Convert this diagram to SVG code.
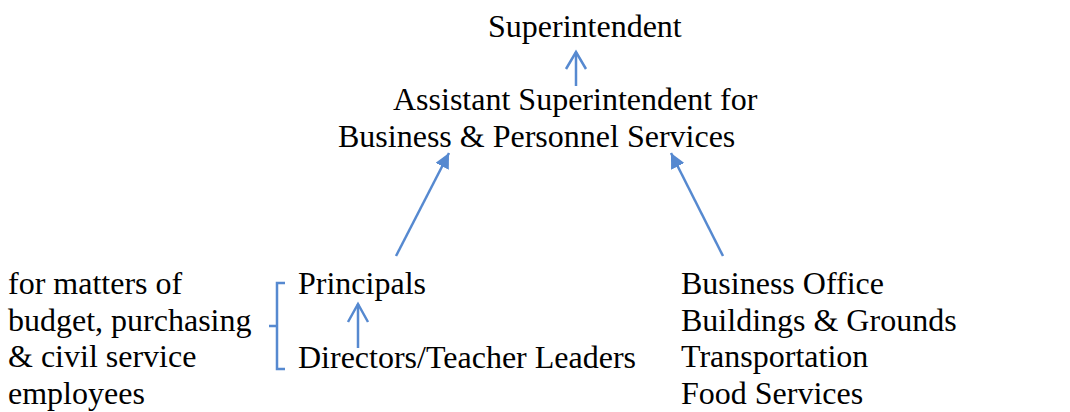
<svg xmlns="http://www.w3.org/2000/svg" width="1070" height="412" viewBox="0 0 1070 412">
<style>
text{font-family:"Liberation Serif","Times New Roman",serif;font-size:32px;fill:#000}
.ln{stroke:#5689d0;stroke-width:2.5;fill:none}
.open{stroke:#5689d0;stroke-width:2.5;fill:none}
</style>
<defs>
<marker id="tri" viewBox="0 0 10 10" refX="10" refY="5" markerWidth="15" markerHeight="15" markerUnits="userSpaceOnUse" orient="auto">
<path d="M0,0 L10,5 L0,10 z" fill="#5689d0"/>
</marker>
</defs>
<rect width="1070" height="412" fill="#fff"/>
<g id="superintendent"><text x="488" y="37">Superintendent</text></g>
<g id="assistant"><text x="393" y="110">Assistant Superintendent for</text><text x="338" y="147">Business &amp; Personnel Services</text></g>
<g id="matters"><text x="8" y="294">for matters of</text><text x="8" y="331">budget, purchasing</text><text x="8" y="367">&amp; civil service</text><text x="8" y="404">employees</text></g>
<g id="principals"><text x="298" y="294">Principals</text></g>
<g id="directors"><text x="298" y="368">Directors/Teacher Leaders</text></g>
<g id="services"><text x="681" y="294">Business Office</text><text x="681" y="331">Buildings &amp; Grounds</text><text x="681" y="367">Transportation</text><text x="681" y="404">Food Services</text></g>
<g id="connectors">
<line class="ln" x1="576" y1="86" x2="576" y2="52"/>
<polyline class="open" points="566,69 576,52 586,69"/>
<line class="ln" x1="396" y1="256" x2="449" y2="153" marker-end="url(#tri)"/>
<line class="ln" x1="723" y1="256" x2="671" y2="153" marker-end="url(#tri)"/>
<line class="ln" x1="358" y1="348" x2="358" y2="304"/>
<polyline class="open" points="348,322 358,304 368,322"/>
<path class="ln" d="M285,283 H277 V369 H285 M277,326 H269"/>
</g>
</svg>
